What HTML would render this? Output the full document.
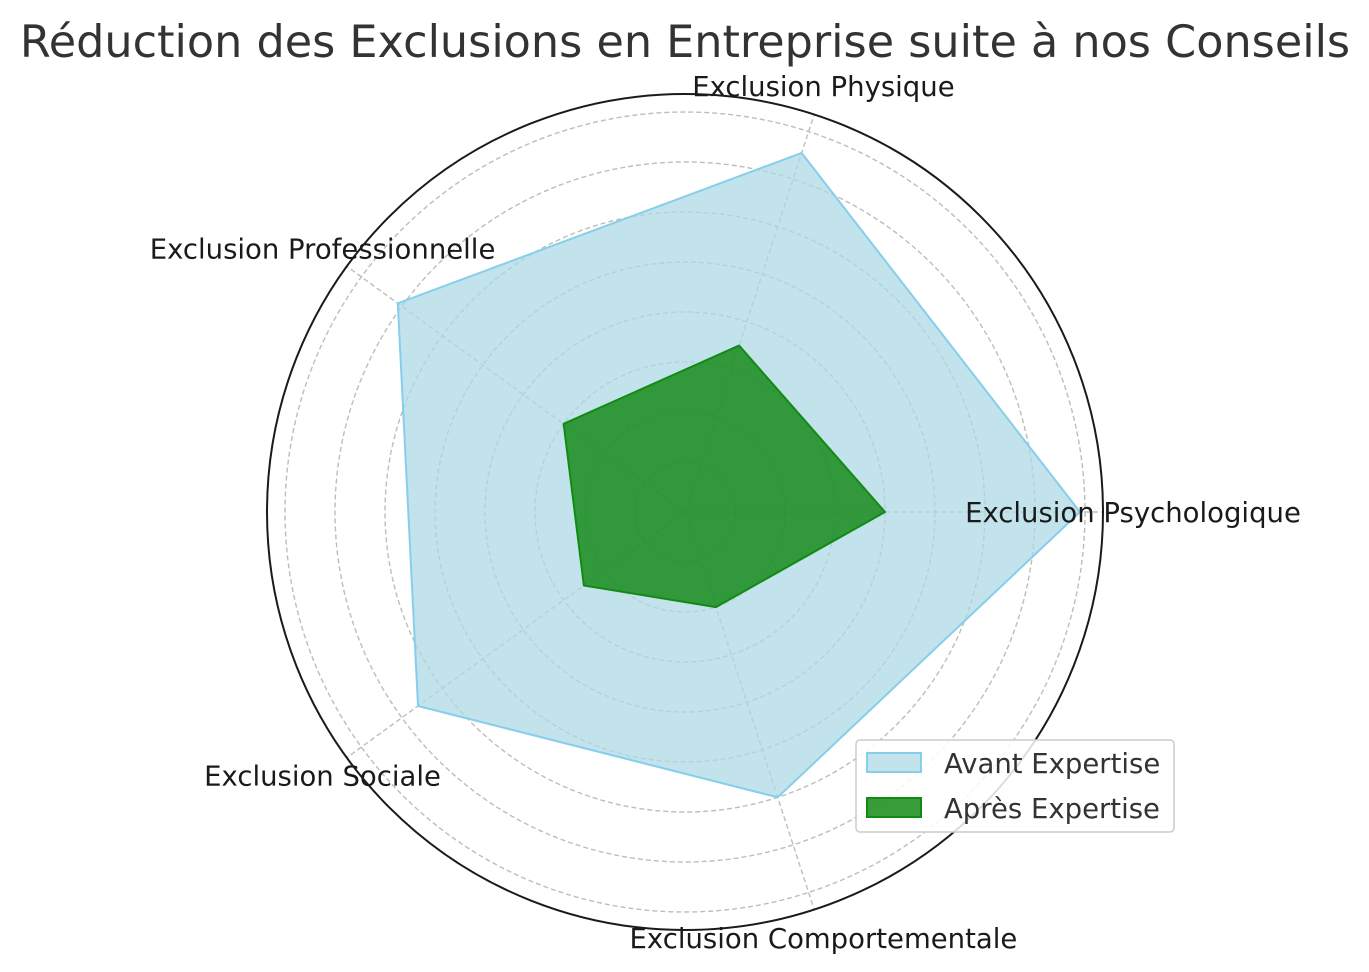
<!DOCTYPE html>
<html><head><meta charset="utf-8"><style>
html,body{margin:0;padding:0;background:#fff;}
svg{display:block;font-family:"DejaVu Sans","Liberation Sans",sans-serif;}
</style></head><body>
<svg id="chart" width="1369" height="972" viewBox="0 0 1369 972">
<text x="685" y="57" text-anchor="middle" font-size="44.5" fill="#333">Réduction des Exclusions en Entreprise suite à nos Conseils</text>
<g id="grid"></g>
<g id="series"></g>
<circle cx="685" cy="512" r="418" fill="none" stroke="#1a1a1a" stroke-width="2"/>
<g id="labels"></g>
<g>
<rect x="856" y="740" width="318" height="92" rx="4" fill="#fff" fill-opacity="0.85" stroke="#ccc" stroke-width="1.5"/>
<g>
<rect x="867" y="753" width="54" height="19" fill="#add8e6" fill-opacity="0.75" stroke="#87ceeb" stroke-width="2"/>
<text x="944" y="773" font-size="27.5" fill="#333">Avant Expertise</text></g>
<g>
<rect x="867" y="798" width="54" height="19" fill="#008000" fill-opacity="0.78" stroke="#138a13" stroke-width="2"/>
<text x="944" y="818" font-size="27.5" fill="#333">Après Expertise</text></g>
</g>
</svg>
<script>
const categories=["Exclusion Psychologique","Exclusion Physique","Exclusion Professionnelle","Exclusion Sociale","Exclusion Comportementale"];
const avantValues=[7.9,7.55,7.1,6.6,6.0];
const apresValues=[4,3.5,3,2.5,2];
const gridTicks=[1,2,3,4,5,6,7,8];
const NS="http://www.w3.org/2000/svg";
const cx=685,cy=512,scale=50,rMax=418,labelR=448;
function ang(i){return i*2*Math.PI/categories.length;}
function pt(i,v){const a=ang(i),r=v*scale;return [cx+r*Math.cos(a),cy-r*Math.sin(a)];}
function mk(t,attrs,parent){const e=document.createElementNS(NS,t);for(const k in attrs)e.setAttribute(k,attrs[k]);parent.appendChild(e);return e;}
const grid=document.getElementById('grid');
gridTicks.forEach(t=>{const c=mk('circle',{cx:cx,cy:cy,r:t*scale,fill:'none',stroke:'#bdbdbd','stroke-width':1.4,'stroke-dasharray':'5,3'},grid);

});
categories.forEach((c,i)=>{const p=pt(i,rMax/scale);const l=mk('line',{x1:cx,y1:cy,x2:p[0],y2:p[1],stroke:'#bdbdbd','stroke-width':1.4,'stroke-dasharray':'5,3'},grid);

});
const series=document.getElementById('series');
function poly(vals,fill,fo,stroke,name){const pts=vals.map((v,i)=>pt(i,v).join(',')).join(' ');
const p=mk('polygon',{points:pts,fill:fill,'fill-opacity':fo,stroke:stroke,'stroke-width':2,'stroke-linejoin':'round'},series);

}
poly(avantValues,'#add8e6',0.75,'#87ceeb','series-avant-expertise');
poly(apresValues,'#008000',0.75,'#138a13','series-apres-expertise');
const labels=document.getElementById('labels');
categories.forEach((c,i)=>{const p=pt(i,labelR/scale);const t=mk('text',{x:p[0],y:p[1]+10,'text-anchor':'middle','font-size':27.5,fill:'#1a1a1a'},labels);
t.textContent=c;

});
</script>
</body></html>
